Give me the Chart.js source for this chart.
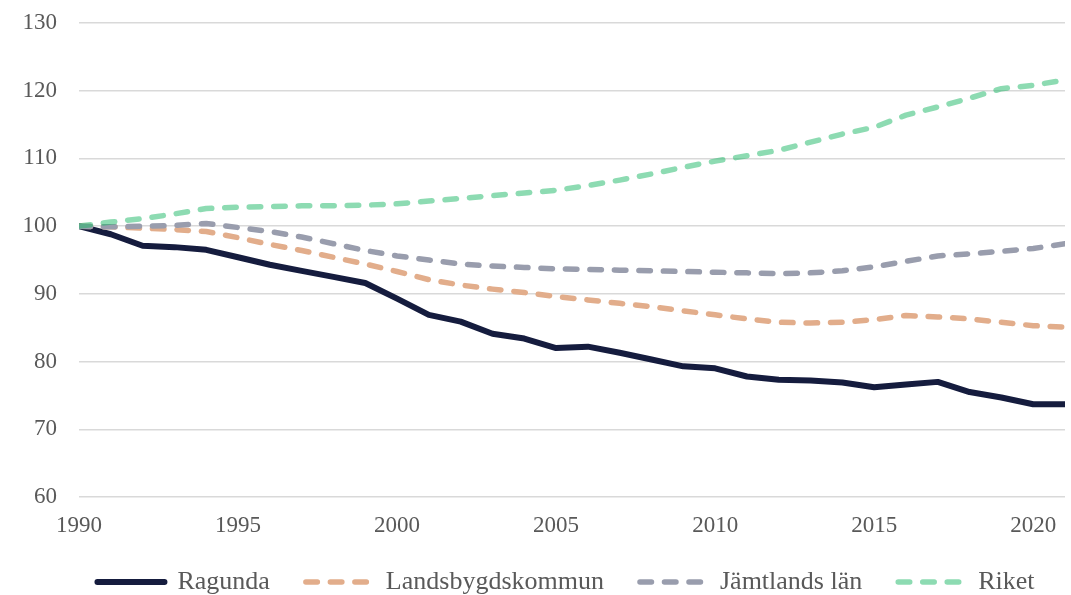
<!DOCTYPE html>
<html><head><meta charset="utf-8">
<script src="https://cdn.jsdelivr.net/npm/chart.js@4.4.1/dist/chart.umd.min.js"></script>
<style>html,body{margin:0;padding:0;background:#fff}#wrap{width:1071px;height:595px;position:relative}</style>
</head><body><div id="wrap"><canvas id="c"></canvas></div>
<script>
const years = [1990,1991,1992,1993,1994,1995,1996,1997,1998,1999,2000,2001,2002,2003,2004,2005,2006,2007,2008,2009,2010,2011,2012,2013,2014,2015,2016,2017,2018,2019,2020,2021];
const ragunda = [100,98.8,97.1,96.9,96.5,95.4,94.3,93.4,92.5,91.6,89.3,86.9,85.9,84.1,83.4,82.0,82.2,81.3,80.3,79.3,79.0,77.8,77.3,77.2,76.9,76.2,76.6,77.0,75.5,74.7,73.7,73.7];
const landsbygd = [100,99.9,99.7,99.5,99.2,98.3,97.3,96.4,95.4,94.4,93.3,92.1,91.3,90.7,90.2,89.6,89.1,88.6,88.1,87.5,86.9,86.3,85.8,85.7,85.8,86.2,86.8,86.6,86.3,85.8,85.3,85.1];
const jamtland = [100,99.9,100.0,100.1,100.4,99.8,99.2,98.4,97.4,96.4,95.6,95.0,94.4,94.1,93.9,93.7,93.6,93.5,93.4,93.3,93.2,93.1,93.0,93.1,93.4,94.0,94.8,95.6,95.9,96.3,96.7,97.4];
const riket = [100,100.6,101.1,101.8,102.6,102.8,102.9,103.0,103.0,103.1,103.3,103.7,104.1,104.5,104.9,105.3,106.0,106.8,107.7,108.7,109.6,110.4,111.2,112.4,113.6,114.6,116.4,117.6,118.9,120.3,120.8,121.6];
const xTickValues = [1990,1995,2000,2005,2010,2015,2020];
const seriesLabels = ['Ragunda','Landsbygdskommun','Jämtlands län','Riket'];

const pts = vals => years.map((yr, i) => ({x: yr, y: vals[i]}));
const dash = [11.5, 13];

const legendLayoutPlugin = {
  id: 'legendLayout',
  beforeLayout(chart) {
    const lg = chart.legend;
    if (lg && !lg._patched) {
      const orig = lg.fit;
      lg.fit = function() {
        const mw = this.maxWidth;
        this.maxWidth = 1071;
        orig.call(this);
        this.maxWidth = mw;
        this.width = mw;
        this.height = 62;
      };
      lg._patched = true;
    }
  },
  afterLayout(chart) {
    const lg = chart.legend;
    if (lg) { lg.left = 55; lg.right = 1077; lg.width = 1022; }
  }
};

const textColor = '#595959';
const serif = '"Liberation Serif", "Times New Roman", serif';

new Chart(document.getElementById('c'), {
  type: 'line',
  data: {
    datasets: [
      {label: seriesLabels[0], data: pts(ragunda), borderColor: '#151c3e', backgroundColor: '#151c3e', borderWidth: 6, borderCapStyle: 'round', borderJoinStyle: 'round', order: 4},
      {label: seriesLabels[1], data: pts(landsbygd), borderColor: '#e2ad8b', backgroundColor: '#e2ad8b', borderWidth: 5.5, borderDash: dash, borderCapStyle: 'round', borderJoinStyle: 'round', order: 3},
      {label: seriesLabels[2], data: pts(jamtland), borderColor: '#999dad', backgroundColor: '#999dad', borderWidth: 5.5, borderDash: dash, borderCapStyle: 'round', borderJoinStyle: 'round', order: 2},
      {label: seriesLabels[3], data: pts(riket), borderColor: 'rgba(27,184,101,0.5)', backgroundColor: 'rgba(27,184,101,0.5)', borderWidth: 5.5, borderDash: dash, borderCapStyle: 'round', borderJoinStyle: 'round', order: 1}
    ]
  },
  options: {
    responsive: true,
    maintainAspectRatio: false,
    animation: false,
    elements: { point: { radius: 0, hoverRadius: 0, pointStyle: 'line' }, line: { tension: 0 } },
    layout: { padding: { left: 0, right: 6, top: 23, bottom: 0 } },
    plugins: {
      tooltip: { enabled: false },
      legend: {
        position: 'bottom',
        fullSize: false,
        labels: {
          usePointStyle: true,
          pointStyle: 'line',
          pointStyleWidth: 67,
          padding: 36,
          color: textColor,
          font: { family: serif, size: 26 },
          sort: (a, b) => a.datasetIndex - b.datasetIndex,
          generateLabels: chart => {
            const items = Chart.defaults.plugins.legend.labels.generateLabels(chart);
            items.forEach(it => {
              const ds = chart.data.datasets[it.datasetIndex];
              it.lineDash = ds.borderDash || [];
              it.lineCap = 'round';
              it.lineWidth = ds.borderWidth;
              it.strokeStyle = ds.borderColor;
              it.fillStyle = ds.borderColor;
              it.pointStyle = 'line';
            });
            return items;
          }
        }
      }
    },
    scales: {
      x: {
        type: 'linear',
        min: 1990,
        max: 2021,
        afterBuildTicks: scale => { scale.ticks = xTickValues.map(v => ({value: v})); },
        afterFit: scale => { scale.height = 36; scale.paddingLeft = 0; scale.paddingRight = 0; },
        grid: { display: false, drawTicks: false },
        border: { display: false },
        ticks: { color: textColor, padding: 14.7, maxRotation: 0, autoSkip: false, font: { family: serif, size: 23 }, callback: v => String(v) }
      },
      y: {
        min: 60,
        max: 130,
        afterFit: scale => { scale.width = 79; scale.paddingTop = 13; scale.paddingBottom = 13; },
        grid: { color: '#d9d9d9', lineWidth: 1.5, drawTicks: false },
        border: { display: false },
        ticks: { stepSize: 10, color: textColor, padding: 22, font: { family: serif, size: 23 } }
      }
    }
  },
  plugins: [legendLayoutPlugin]
});
</script>
</body></html>
